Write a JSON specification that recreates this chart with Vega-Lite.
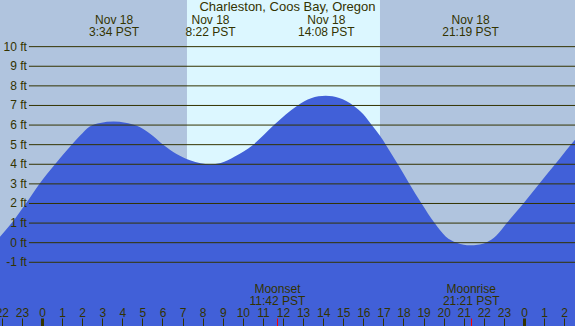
{
  "$schema": "https://vega.github.io/schema/vega-lite/v6.json",
  "width": 575,
  "height": 326,
  "autosize": {"type": "none"},
  "padding": 0,
  "background": "#b0c4de",
  "config": {
    "view": {"stroke": null},
    "font": "Liberation Sans",
    "axis": {"labelFont": "Liberation Sans", "labelFontSize": 12, "labelColor": "#333300", "grid": false, "domain": false, "title": null, "labelOverlap": false}
  },
  "title": {"text": "Charleston, Coos Bay, Oregon", "anchor": "middle", "offset": -24, "baseline": "alphabetic", "fontSize": 13, "fontWeight": "normal", "color": "#333300", "font": "Liberation Sans"},
  "datasets": {
    "tide": [
      {"hour": -2.6, "ft": -0.25}, {"hour": -2.09, "ft": 0.3}, {"hour": -1.51, "ft": 1.0}, {"hour": -0.8, "ft": 2.0},
      {"hour": -0.13, "ft": 3.0}, {"hour": 0.65, "ft": 4.0}, {"hour": 1.48, "ft": 5.0}, {"hour": 1.9, "ft": 5.47},
      {"hour": 2.36, "ft": 5.92}, {"hour": 2.9, "ft": 6.11}, {"hour": 3.57, "ft": 6.18}, {"hour": 4.15, "ft": 6.12},
      {"hour": 4.72, "ft": 5.97}, {"hour": 5.4, "ft": 5.55}, {"hour": 6.04, "ft": 5.0}, {"hour": 6.7, "ft": 4.52},
      {"hour": 7.37, "ft": 4.2}, {"hour": 7.9, "ft": 4.05}, {"hour": 8.37, "ft": 4.0}, {"hour": 8.9, "ft": 4.07},
      {"hour": 9.6, "ft": 4.4}, {"hour": 10.52, "ft": 5.0}, {"hour": 11.55, "ft": 6.0}, {"hour": 12.73, "ft": 7.0},
      {"hour": 13.4, "ft": 7.37}, {"hour": 14.13, "ft": 7.49}, {"hour": 14.8, "ft": 7.38}, {"hour": 15.5, "ft": 7.0},
      {"hour": 16.0, "ft": 6.55}, {"hour": 16.42, "ft": 6.0}, {"hour": 16.83, "ft": 5.45}, {"hour": 17.12, "ft": 5.0},
      {"hour": 17.72, "ft": 4.0}, {"hour": 18.3, "ft": 3.0}, {"hour": 18.9, "ft": 2.0}, {"hour": 19.55, "ft": 1.0},
      {"hour": 20.1, "ft": 0.32}, {"hour": 20.65, "ft": 0.0}, {"hour": 21.0, "ft": -0.1}, {"hour": 21.32, "ft": -0.13},
      {"hour": 21.7, "ft": -0.1}, {"hour": 22.1, "ft": 0.0}, {"hour": 22.64, "ft": 0.38},
      {"hour": 23.14, "ft": 1.0}, {"hour": 23.97, "ft": 2.0}, {"hour": 24.75, "ft": 3.0}, {"hour": 25.55, "ft": 4.0},
      {"hour": 26.33, "ft": 5.0}, {"hour": 26.54, "ft": 5.25}, {"hour": 27.0, "ft": 5.8}
    ],
    "grid": [
      {"ft": -1, "label": "-1 ft"}, {"ft": 0, "label": "0 ft"}, {"ft": 1, "label": "1 ft"}, {"ft": 2, "label": "2 ft"},
      {"ft": 3, "label": "3 ft"}, {"ft": 4, "label": "4 ft"}, {"ft": 5, "label": "5 ft"}, {"ft": 6, "label": "6 ft"},
      {"ft": 7, "label": "7 ft"}, {"ft": 8, "label": "8 ft"}, {"ft": 9, "label": "9 ft"}, {"ft": 10, "label": "10 ft"}
    ],
    "daylight": [{"sunrise": 7.22, "sunset": 16.83}],
    "events": [
      {"hour": 3.5667, "ft": 6.18, "type": "High"},
      {"hour": 8.3667, "ft": 4.0, "type": "Low"},
      {"hour": 14.1333, "ft": 7.49, "type": "High"},
      {"hour": 21.3167, "ft": -0.13, "type": "Low"}
    ],
    "moon": [
      {"hour": 11.7, "event": "Moonset"},
      {"hour": 21.35, "event": "Moonrise"}
    ]
  },
  "layer": [
    {
      "data": {"name": "daylight"},
      "mark": {"type": "rect", "color": "#dcf7ff"},
      "encoding": {
        "x": {
          "field": "sunrise", "type": "quantitative",
          "scale": {"domain": [-2.09, 26.54], "nice": false, "zero": false},
          "axis": {
            "orient": "bottom",
            "zindex": 2,
            "values": [-2, -1, 0, 1, 2, 3, 4, 5, 6, 7, 8, 9, 10, 11, 12, 13, 14, 15, 16, 17, 18, 19, 20, 21, 22, 23, 24, 25, 26],
            "labelExpr": "'' + (((datum.value % 24) + 24) % 24)",
            "ticks": true,
            "tickSize": -8,
            "tickColor": "#333300",
            "tickWidth": {"condition": {"test": "datum.value % 24 === 0", "value": 3}, "value": 1},
            "labelBaseline": "bottom",
            "labelPadding": 1,
            "labelFlush": false,
            "labelBound": false
          }
        },
        "x2": {"field": "sunset"}
      }
    },
    {
      "data": {"name": "tide"},
      "mark": {"type": "area", "color": "#4160d8", "interpolate": "monotone", "clip": true},
      "encoding": {
        "x": {"field": "hour", "type": "quantitative", "scale": {"domain": [-2.09, 26.54], "nice": false, "zero": false}, "axis": null},
        "y": {"field": "ft", "type": "quantitative", "scale": {"domain": [-4.25, 12.38], "nice": false, "zero": false}, "axis": null},
        "y2": {"datum": -4.25}
      }
    },
    {
      "data": {"name": "grid"},
      "mark": {"type": "rule", "color": "#333300", "strokeWidth": 1},
      "encoding": {
        "x": {"datum": -0.65, "type": "quantitative", "scale": {"domain": [-2.09, 26.54], "nice": false, "zero": false}, "axis": null},
        "x2": {"datum": 26.54},
        "y": {"field": "ft", "type": "quantitative", "scale": {"domain": [-4.25, 12.38], "nice": false, "zero": false}, "axis": null}
      }
    },
    {
      "data": {"name": "grid"},
      "mark": {"type": "text", "align": "right", "baseline": "middle", "font": "Liberation Sans", "fontSize": 12, "color": "#333300"},
      "encoding": {
        "x": {"datum": -0.75, "type": "quantitative", "scale": {"domain": [-2.09, 26.54], "nice": false, "zero": false}, "axis": null},
        "y": {"field": "ft", "type": "quantitative", "scale": {"domain": [-4.25, 12.38], "nice": false, "zero": false}, "axis": null},
        "text": {"field": "label"}
      }
    },
    {
      "data": {"name": "events"},
      "mark": {"type": "point", "opacity": 0},
      "encoding": {
        "x": {
          "field": "hour", "type": "quantitative",
          "scale": {"domain": [-2.09, 26.54], "nice": false, "zero": false},
          "axis": {
            "orient": "top",
            "zindex": 2,
            "offset": -26,
            "values": [3.5667, 8.3667, 14.1333, 21.3167],
            "labelExpr": "['Nov 18', floor(datum.value) + ':' + pad(round((datum.value - floor(datum.value)) * 60), 2, '0', 'left') + ' PST']",
            "ticks": false,
            "labelPadding": 0,
            "labelBaseline": "bottom",
            "labelLineHeight": 12
          }
        },
        "y": {"field": "ft", "type": "quantitative", "scale": {"domain": [-4.25, 12.38], "nice": false, "zero": false}, "axis": null}
      }
    },
    {
      "data": {"name": "moon"},
      "mark": {"type": "point", "opacity": 0},
      "encoding": {
        "x": {
          "field": "hour", "type": "quantitative",
          "scale": {"domain": [-2.09, 26.54], "nice": false, "zero": false},
          "axis": {
            "orient": "bottom",
            "zindex": 2,
            "values": [11.7, 21.35],
            "labelExpr": "[datum.value < 15 ? 'Moonset' : 'Moonrise', floor(datum.value) + ':' + pad(round((datum.value - floor(datum.value)) * 60), 2, '0', 'left') + ' PST']",
            "ticks": true,
            "tickSize": -8,
            "tickColor": "#ff0000",
            "tickWidth": 1,
            "labelPadding": -23,
            "labelBaseline": "bottom",
            "labelLineHeight": 12
          }
        }
      }
    }
  ],
  "resolve": {"axis": {"x": "independent"}}
}
